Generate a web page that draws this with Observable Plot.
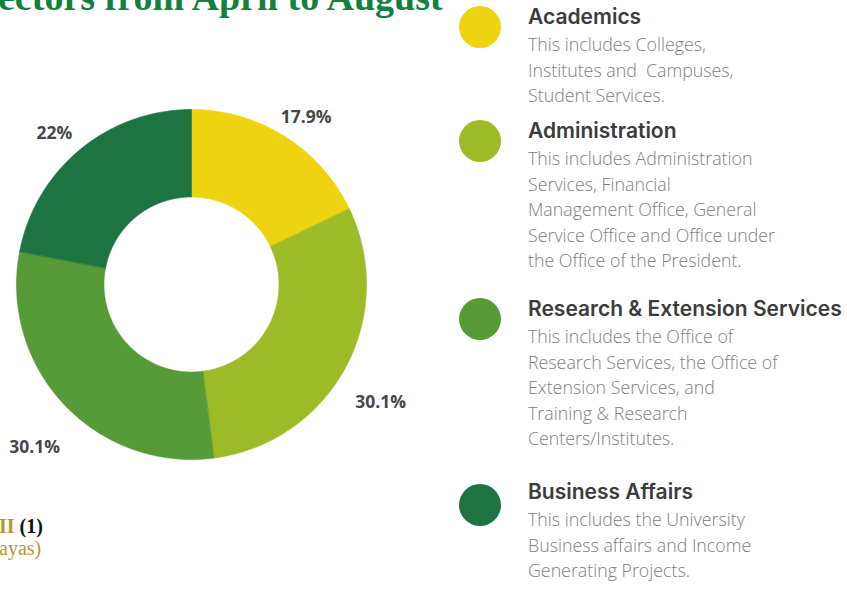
<!DOCTYPE html>
<html><head><meta charset="utf-8">
<script src="https://cdn.jsdelivr.net/npm/d3@7"></script>
<script src="https://cdn.jsdelivr.net/npm/@observablehq/plot@0.6"></script>
<style>
body{margin:0;background:#fff;}
#page{position:relative;width:847px;height:589px;overflow:hidden;background:#fff;}
#chart{position:absolute;left:0;top:0;}
#title{position:absolute;left:-2px;top:-22px;font-family:"Liberation Serif","DejaVu Serif",serif;font-weight:bold;font-size:38px;line-height:38px;color:#13803f;white-space:nowrap;}
#foot1{position:absolute;left:-1px;top:514px;font-family:"Liberation Serif",serif;font-weight:bold;font-size:20px;line-height:24px;white-space:nowrap;color:#111;}
#foot1 .g{color:#b8952f;}
#foot2{position:absolute;left:-1px;top:537px;font-family:"Liberation Serif",serif;font-size:20px;line-height:22px;white-space:nowrap;color:#b8952f;}
.item{position:absolute;left:528px;}
.dot{position:absolute;left:-69px;width:42px;height:42px;border-radius:50%;}
.head{font-family:Inter,"Noto Sans",sans-serif;font-weight:600;font-size:21px;line-height:24px;color:#3c3c3c;white-space:nowrap;}
.desc{margin-top:3px;font-family:"Open Sans",sans-serif;font-weight:300;font-size:17.8px;line-height:25.5px;color:#7e7e7e;white-space:pre;}
</style></head><body><div id="page">
<div id="title">ectors from April to August</div>
<div id="chart"></div>
<div id="foot1"><span class="g">II</span> (1)</div>
<div id="foot2">ayas)</div>
</div>
<script>
const categories = ["Academics", "Administration", "Research & Extension Services", "Business Affairs"];
const shares = [17.9, 30.1, 30.1, 22];
const shareLabels = ["17.9%", "30.1%", "30.1%", "22%"];
const colors = ["#edd310", "#9dbb27", "#569b37", "#1e7441"];
const descriptions = [
  ["This includes Colleges,", "Institutes and  Campuses,", "Student Services."],
  ["This includes Administration", "Services, Financial", "Management Office, General", "Service Office and Office under", "the Office of the President."],
  ["This includes the Office of", "Research Services, the Office of", "Extension Services, and", "Training & Research", "Centers/Institutes."],
  ["This includes the University", "Business affairs and Income", "Generating Projects."]
];

// layout
const W = 430, H = 589, cx = 191, cy = 284, R = 175;
const innerRatio = 0.5, labelRatio = 1.23;
const itemTops = [5, 119, 297, 480];
const dotOffsets = [1, 1, 1, 4];

const total = d3.sum(shares);
const pts = [];
const labelPts = [];
let cum = 0;
categories.forEach((c, i) => {
  const a0 = cum / total * 2 * Math.PI;
  cum += shares[i];
  const a1 = cum / total * 2 * Math.PI;
  const n = Math.max(2, Math.ceil((a1 - a0) / (Math.PI / 360)));
  for (let k = 0; k <= n; k++) {
    const a = a0 + (a1 - a0) * k / n;
    pts.push({cat: c, x: Math.sin(a), y: Math.cos(a)});
  }
  for (let k = n; k >= 0; k--) {
    const a = a0 + (a1 - a0) * k / n;
    pts.push({cat: c, x: innerRatio * Math.sin(a), y: innerRatio * Math.cos(a)});
  }
  const am = (a0 + a1) / 2;
  labelPts.push({label: shareLabels[i], x: labelRatio * Math.sin(am), y: labelRatio * Math.cos(am)});
});

const chart = Plot.plot({
  width: W, height: H, margin: 0,
  x: {domain: [-cx / R, (W - cx) / R], axis: null},
  y: {domain: [-(H - cy) / R, cy / R], axis: null},
  color: {domain: categories, range: colors},
  marks: [
    Plot.line(pts, {x: "x", y: "y", z: "cat", fill: "cat", stroke: "cat", strokeWidth: 0.6, curve: "linear-closed"}),
    Plot.text(labelPts, {x: "x", y: "y", dy: 15, text: "label", fontSize: 17.5, fontWeight: "bold", fill: "#474747", fontFamily: "Open Sans"})
  ]
});
document.getElementById("chart").appendChild(chart);

const page = document.getElementById("page");
categories.forEach((c, i) => {
  const item = document.createElement("div");
  item.className = "item";
  item.style.top = itemTops[i] + "px";
  const dot = document.createElement("div");
  dot.className = "dot";
  dot.style.background = colors[i];
  dot.style.top = dotOffsets[i] + "px";
  const head = document.createElement("div");
  head.className = "head";
  head.textContent = c;
  const desc = document.createElement("div");
  desc.className = "desc";
  desc.textContent = descriptions[i].join("\n");
  item.append(dot, head, desc);
  page.appendChild(item);
});
</script>
</body></html>
